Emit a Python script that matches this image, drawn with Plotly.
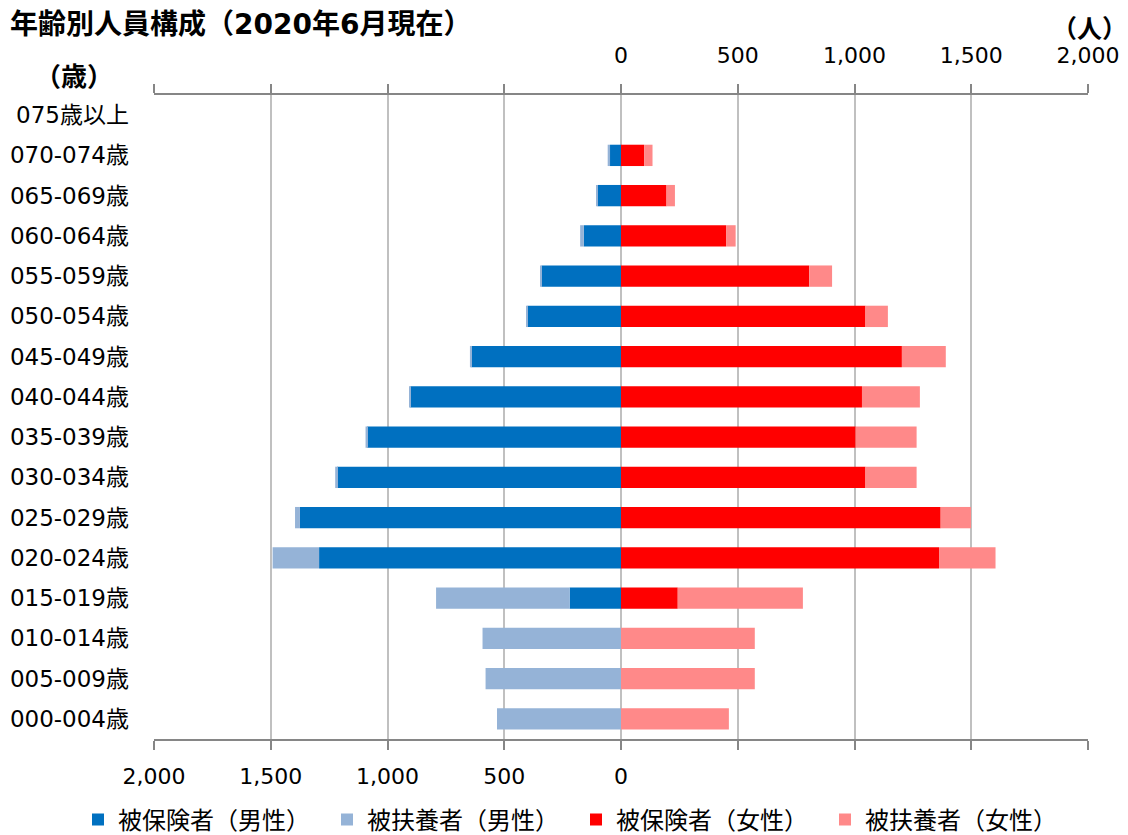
import plotly.graph_objects as go

# Age groups (bottom to top)
ages = ["000-004歳", "005-009歳", "010-014歳", "015-019歳", "020-024歳", "025-029歳",
        "030-034歳", "035-039歳", "040-044歳", "045-049歳", "050-054歳", "055-059歳",
        "060-064歳", "065-069歳", "070-074歳", "075歳以上"]

male_insured = [0, 0, 0, 220, 1293, 1375, 1216, 1087, 902, 640, 400, 340, 159, 100, 47, 0]
male_dependent = [531, 580, 593, 572, 199, 21, 8, 7, 6, 7, 7, 6, 16, 4, 10, 0]
female_insured = [0, 0, 0, 243, 1362, 1369, 1047, 1005, 1032, 1203, 1047, 806, 450, 195, 99, 0]
female_dependent = [462, 573, 573, 536, 242, 130, 219, 261, 248, 188, 96, 98, 41, 36, 36, 0]

series_names = ["被保険者（男性）", "被扶養者（男性）", "被保険者（女性）", "被扶養者（女性）"]
colors = ["#0070C0", "#95B3D7", "#FF0000", "#FF8989"]

tick_vals = [-2000, -1500, -1000, -500, 0, 500, 1000, 1500, 2000]
bottom_ticktext = ["2,000", "1,500", "1,000", "500", "0", "", "", "", ""]
top_ticktext = ["", "", "", "", "0", "500", "1,000", "1,500", "2,000"]

FONT = "DejaVu Sans, Noto Sans CJK JP, sans-serif"

fig = go.Figure()
series = [
    [-v for v in male_insured],
    [-v for v in male_dependent],
    female_insured,
    female_dependent,
]
raw = [male_insured, male_dependent, female_insured, female_dependent]
for name, vals, rv, c in zip(series_names, series, raw, colors):
    fig.add_trace(go.Bar(
        y=ages, x=vals, name=name, orientation="h",
        marker=dict(color=c, line=dict(width=0)),
        customdata=rv, hovertemplate="%{y}: %{customdata}<extra>" + name + "</extra>",
    ))

# invisible trace to activate top axis
fig.add_trace(go.Scatter(x=[0], y=[ages[0]], xaxis="x2", mode="markers",
                         marker=dict(opacity=0), showlegend=False, hoverinfo="skip"))

n = len(ages)
boundaries = [i - 0.5 for i in range(n + 1)]

# page has an 8px body margin; figure sized so the plot area lands where the reference has it
PW, PH = 934, 644

fig.update_layout(
    width=1120, height=827,
    margin=dict(l=146, r=40, t=87, b=96, autoexpand=False),
    paper_bgcolor="white", plot_bgcolor="white",
    barmode="relative", bargap=0.47,
    font=dict(family=FONT, size=22, color="#000000"),
    xaxis=dict(
        range=[-2000, 2000], tickvals=tick_vals, ticktext=bottom_ticktext,
        showgrid=True, gridcolor="#C0C0C0", gridwidth=1.5,
        zeroline=False,
        showline=True, linecolor="#868686", linewidth=1.5,
        ticks="outside", ticklen=9, tickcolor="#868686", tickwidth=1.5,
        ticklabelstandoff=8, automargin=False,
        tickfont=dict(size=22),
    ),
    xaxis2=dict(
        range=[-2000, 2000], tickvals=tick_vals, ticktext=top_ticktext,
        overlaying="x", side="top", anchor="y",
        showgrid=False, zeroline=False,
        showline=True, linecolor="#868686", linewidth=1.5,
        ticks="outside", ticklen=9, tickcolor="#868686", tickwidth=1.5,
        ticklabelstandoff=12, automargin=False,
        tickfont=dict(size=22),
    ),
    yaxis=dict(
        type="category", categoryarray=ages, categoryorder="array",
        range=[-0.5, n - 0.5],
        showgrid=False, zeroline=False, showline=False,
        ticks="", ticklabelstandoff=24, automargin=False,
        tickfont=dict(size=23),
    ),
    yaxis2=dict(
        range=[-0.5, n - 0.5], overlaying="y", anchor="free", position=0.5,
        tickvals=boundaries, showticklabels=False,
        showgrid=False, zeroline=False,
        showline=True, linecolor="#868686", linewidth=2,
        ticks="inside", ticklen=8, tickcolor="#868686", tickwidth=1.5,
        layer="above traces",
    ),
    legend=dict(
        orientation="h", xref="paper", x=(78 - 154) / PW, xanchor="left",
        y=(739 - 820) / PH, yanchor="middle",
        font=dict(size=24, family=FONT), entrywidth=204, traceorder="normal",
    ),
    showlegend=True,
)

fig.add_annotation(text="<b>年齢別人員構成（2020年6月現在）</b>", xref="paper", yref="paper",
                   x=(8 - 154) / PW, y=1 + 70 / PH, xanchor="left", yanchor="middle",
                   showarrow=False, font=dict(size=28, family=FONT))
fig.add_annotation(text="<b>（歳）</b>", xref="paper", yref="paper",
                   x=(74 - 154) / PW, y=1 + 18 / PH, xanchor="center", yanchor="middle",
                   showarrow=False, font=dict(size=26, family=FONT))
fig.add_annotation(text="<b>（人）</b>", xref="paper", yref="paper",
                   x=1 + (1089 - 1088) / PW, y=1 + 66 / PH, xanchor="center", yanchor="middle",
                   showarrow=False, font=dict(size=25, family=FONT))

fig.write_html("out.html")
